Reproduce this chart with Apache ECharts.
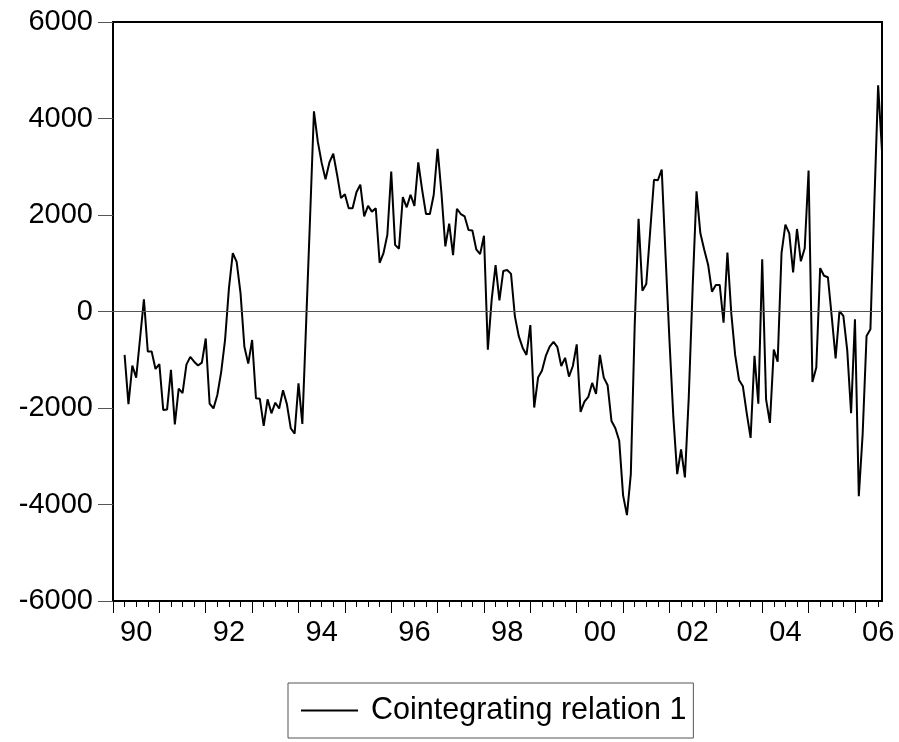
<!DOCTYPE html>
<html>
<head>
<meta charset="utf-8">
<script src="https://cdn.jsdelivr.net/npm/echarts@6/dist/echarts.min.js"></script>
<style>
html,body{margin:0;padding:0;background:#fff;}
#chart{width:899px;height:742px;}
</style>
</head>
<body>
<div id="chart"></div>
<script>
// Monthly values, 1990M04 .. 2006M08 (first three months of 1990 are missing)
const firstMonthIndex = 3; // April 1990 (0 = January 1990)
const v1990 = [-900, -1920, -1120, -1370, -560, 250, -830, -830, -1190];
const v1991 = [-1090, -2040, -2030, -1210, -2340, -1600, -1690, -1100, -940, -1040, -1120, -1060];
const v1992 = [-560, -1910, -2010, -1730, -1250, -590, 480, 1210, 1030, 380, -730, -1080];
const v1993 = [-590, -1800, -1810, -2370, -1820, -2110, -1890, -2010, -1630, -1920, -2420, -2530];
const v1994 = [-1490, -2330, -200, 1950, 4150, 3520, 3080, 2740, 3090, 3270, 2830, 2350];
const v1995 = [2430, 2140, 2140, 2470, 2630, 1970, 2190, 2070, 2140, 1010, 1210, 1590];
const v1996 = [2900, 1380, 1300, 2370, 2160, 2420, 2190, 3090, 2520, 2020, 2020, 2420];
const v1997 = [3370, 2450, 1350, 1820, 1170, 2130, 2020, 1970, 1690, 1680, 1290, 1190];
const v1998 = [1570, -790, 250, 960, 230, 840, 860, 780, -100, -510, -750, -900];
const v1999 = [-280, -1990, -1370, -1230, -920, -730, -630, -740, -1130, -960, -1350, -1130];
const v2000 = [-680, -2080, -1870, -1770, -1480, -1710, -900, -1370, -1530, -2270, -2420, -2680];
const v2001 = [-3810, -4220, -3370, -300, 1920, 430, 570, 1650, 2730, 2720, 2940, 1140];
const v2002 = [-600, -2180, -3370, -2860, -3440, -1770, 500, 2490, 1620, 1280, 970, 410];
const v2003 = [550, 550, -230, 1220, -40, -900, -1420, -1550, -2110, -2620, -920, -1910];
const v2004 = [1080, -1820, -2310, -790, -1040, 1210, 1800, 1620, 810, 1710, 1040, 1310];
const v2005 = [2920, -1460, -1160, 900, 740, 710, -110, -970, 10, -90, -800, -2110];
const v2006 = [-160, -3830, -2530, -510, -370, 2200, 4690, 3320];

const seriesName = 'Cointegrating relation 1';
const xLabels = ['90', '92', '94', '96', '98', '00', '02', '04', '06'];
const lastIndex = 199; // August 2006

// build [monthIndex, value] pairs
const allValues = [].concat(v1990, v1991, v1992, v1993, v1994, v1995, v1996, v1997,
  v1998, v1999, v2000, v2001, v2002, v2003, v2004, v2005, v2006);
const data = allValues.map((v, k) => [firstMonthIndex + k, v]);

// year ticks (start of each year) and labels centred in the year
const yearTicks = [];
for (let y = 0; y * 12 <= lastIndex; y++) yearTicks.push(y * 12);
const labelPos = {};
xLabels.forEach((lab, k) => { labelPos[k * 24 + 6] = lab; });
const labelVals = Object.keys(labelPos).map(Number);

const FONT = '"Liberation Sans", Arial, sans-serif';

const chart = echarts.init(document.getElementById('chart'), null, {renderer: 'canvas'});
chart.setOption({
  animation: false,
  backgroundColor: '#fff',
  grid: {
    left: 113, top: 22, width: 769, height: 579,
    show: true, borderColor: '#000', borderWidth: 2, backgroundColor: 'transparent'
  },
  xAxis: {
    type: 'value', min: 0, max: lastIndex, interval: 12,
    axisLine: {show: true, onZero: false, lineStyle: {color: '#000', width: 2}},
    axisTick: {show: true, customValues: yearTicks, length: 12, lineStyle: {color: '#000', width: 1}},
    minorTick: {show: true, splitNumber: 4, length: 6, lineStyle: {color: '#000', width: 1}},
    splitLine: {show: false},
    minorSplitLine: {show: false},
    axisLabel: {
      customValues: labelVals,
      formatter: v => labelPos[v] || '',
      fontSize: 29, color: '#000', fontFamily: FONT, margin: 17
    }
  },
  yAxis: {
    type: 'value', min: -6000, max: 6000, interval: 2000,
    axisLine: {show: true, onZero: false, lineStyle: {color: '#000', width: 2}},
    axisTick: {show: true, length: 15, lineStyle: {color: '#555', width: 1}},
    splitLine: {show: false},
    axisLabel: {fontSize: 29, color: '#000', fontFamily: FONT, margin: 20, formatter: v => String(v)}
  },
  legend: {
    show: true, left: 288, top: 683, orient: 'horizontal',
    icon: 'rect', itemWidth: 57, itemHeight: 2,
    borderColor: '#555', borderWidth: 1, padding: [12, 7, 12, 13],
    textStyle: {fontSize: 30.5, color: '#000', fontFamily: FONT, padding: [0, 0, 0, 8]},
    data: [seriesName]
  },
  series: [{
    type: 'line', name: seriesName, data: data,
    symbol: 'none', showSymbol: false,
    lineStyle: {color: '#000', width: 2},
    itemStyle: {color: '#000'},
    markLine: {
      silent: true, symbol: 'none', label: {show: false},
      lineStyle: {color: '#555', width: 1, type: 'solid'},
      data: [{yAxis: 0}]
    }
  }]
});
</script>
</body>
</html>
